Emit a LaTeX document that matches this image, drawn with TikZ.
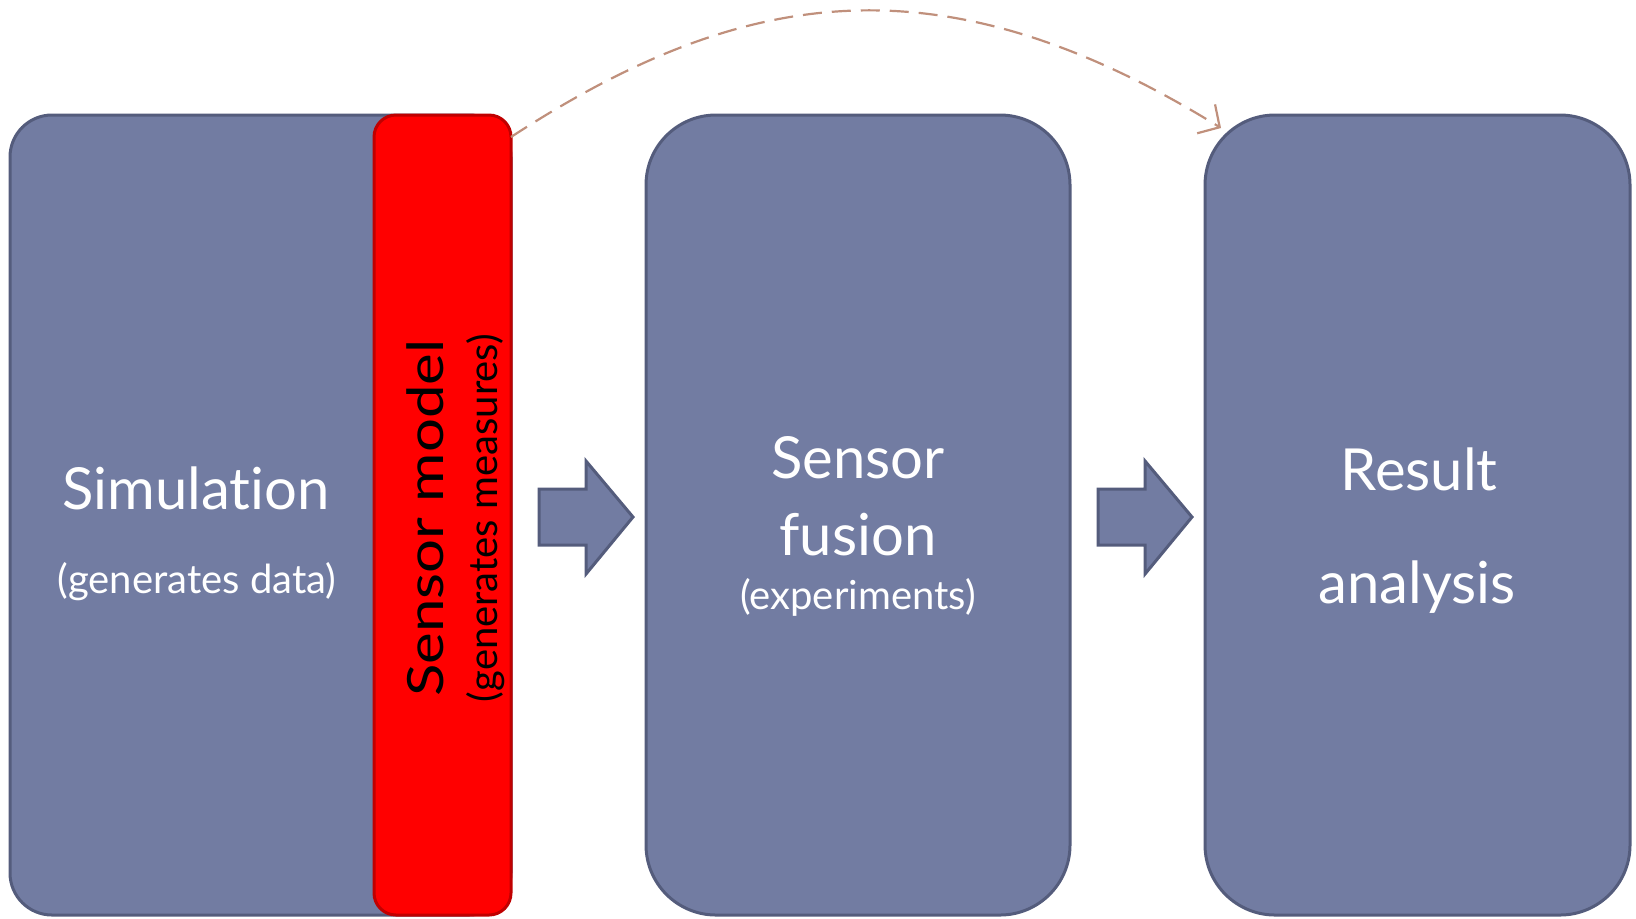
\documentclass[tikz,border=0pt]{standalone}
\usepackage{fontspec}
\setmainfont{Lato}[Ligatures=NoCommon]
\usetikzlibrary{arrows.meta}

\definecolor{boxfill}{RGB}{114,124,162}
\definecolor{boxline}{RGB}{84,92,124}
\definecolor{modelfill}{RGB}{255,0,0}
\definecolor{modelline}{RGB}{192,0,0}
\definecolor{linkcol}{RGB}{192,144,124}

\tikzset{
  stage/.style={draw=boxline, fill=boxfill, line width=1.5pt, rectangle, inner sep=0pt},
  model/.style={draw=modelline, fill=modelfill, line width=1.5pt, rectangle, inner sep=0pt, rounded corners=11pt},
  bigtext/.style={text=white, font=\fontsize{29}{34}\selectfont, anchor=base, inner sep=0pt},
  smalltext/.style={text=white, font=\fontsize{20}{24}\selectfont, anchor=base, inner sep=0pt},
  flowarrow/.style={draw=boxline, fill=boxfill, line width=1.5pt, line join=miter},
  feedlink/.style={draw=linkcol, line width=1.1pt, dash pattern=on 9.5pt off 5pt,
                   -{Straight Barb[length=8pt, width=17pt, line width=1.1pt]}}
}

\begin{document}
\begin{tikzpicture}[x=0.5pt, y=-0.5pt]
  \useasboundingbox (0,0) rectangle (1636,918);

  % stage boxes
  \node[stage, rounded corners=21pt, minimum width=250.5pt, minimum height=400pt] (sim) at (260.5,515) {};
  \node[model, minimum width=68.5pt, minimum height=400pt] (sens) at (442.5,515) {};
  \node[stage, rounded corners=35pt, minimum width=212pt, minimum height=400pt] (fus) at (858,515) {};
  \node[stage, rounded corners=35pt, minimum width=212.5pt, minimum height=400pt] (res) at (1417.5,515) {};

  % labels of the simulation block
  \node[bigtext] (simT) at (196,509) {Simulation};
  \node[smalltext] (simS) at (197,593) {(generates data)};

  % labels of the sensor model strip, set along the strip
  \node[bigtext, text=black, font=\fontsize{25}{30}\selectfont, rotate=90] (sensT) at (443,518) {\scalebox{1.2}[1]{Sensor model}};
  \node[smalltext, text=black, rotate=90] (sensS) at (497,518) {(generates measures)};

  % labels of the fusion block
  \node[bigtext] (fusA) at (858,478) {Sensor};
  \node[bigtext] (fusB) at (858,555) {fusion};
  \node[smalltext] (fusS) at (858,609) {(experiments)};

  % labels of the analysis block
  \node[bigtext] (resA) at (1419,490) {Result};
  \node[bigtext] (resB) at (1417,603) {analysis};

  % block arrows between the stages
  \draw[flowarrow] (539,489) -- (586,489) -- (586,461) -- (633,517) -- (586,574) -- (586,545) -- (539,545) -- cycle;
  \draw[flowarrow] (1098,489) -- (1145,489) -- (1145,461) -- (1192,517) -- (1145,574) -- (1145,545) -- (1098,545) -- cycle;

  % measures passed straight on to the analysis
  \coordinate (linkA) at (511,137);
  \coordinate (linkB) at (1221,128);
  \draw[feedlink] (linkA) .. controls (743,-14) and (941,-45) .. (linkB);
\end{tikzpicture}
\end{document}
